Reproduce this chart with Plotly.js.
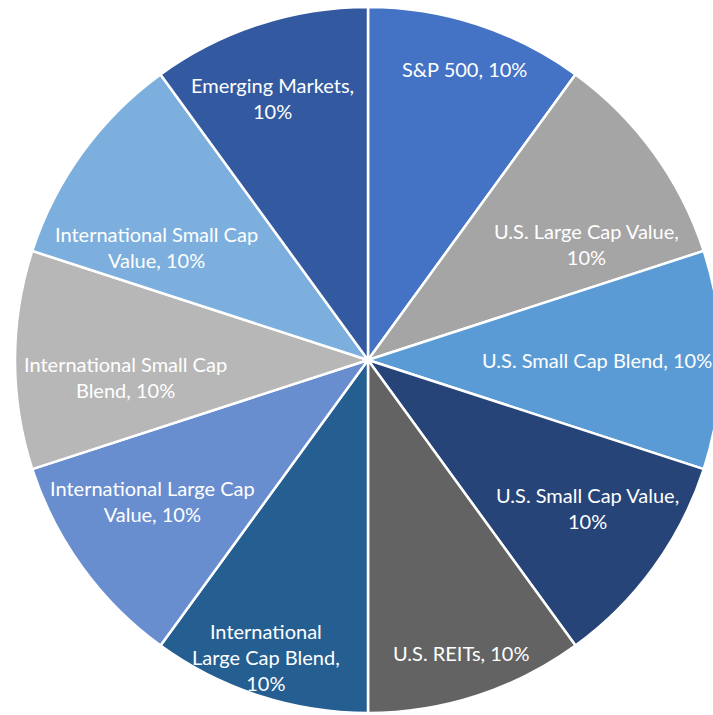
<!DOCTYPE html>
<html>
<head>
<meta charset="utf-8">
<script src="https://cdn.plot.ly/plotly-3.0.1.min.js"></script>
<style>
html,body{margin:0;padding:0;overflow:hidden;background:#fff;width:713px;height:715px;}
#chart{width:740px;height:720px;}
</style>
</head>
<body>
<div id="chart"></div>
<script>
// ---- data ----
const categories = ["S&P 500","U.S. Large Cap Value","U.S. Small Cap Blend","U.S. Small Cap Value","U.S. REITs","International Large Cap Blend","International Large Cap Value","International Small Cap Blend","International Small Cap Value","Emerging Markets"];
const values = [10,10,10,10,10,10,10,10,10,10];
const labelTexts = ["S&P 500, 10%","U.S. Large Cap Value,<br>10%","U.S. Small Cap Blend, 10%","U.S. Small Cap Value,<br>10%","U.S. REITs, 10%","International<br>Large Cap Blend,<br>10%","International Large Cap<br>Value, 10%","International Small Cap<br>Blend, 10%","International Small Cap<br>Value, 10%","Emerging Markets,<br>10%"];

// ---- style ----
const colors = ["#4472C4","#A5A5A5","#5B9BD5","#264478","#636363","#255E91","#698ED0","#B7B7B7","#7CAFDD","#335AA1"];
const labelRadius = [0.87,0.70,0.65,0.75,0.87,0.89,0.73,0.69,0.68,0.79];
const labelAngleShift = [0.4,8,0,-2,0.3,1,2.7,-4,-8,-2];

const W = 740, H = 720;
const cx = 368, cy = 360, R = 353;

const total = values.reduce((a, b) => a + b, 0);
let cum = 0;
const annotations = values.map((v, i) => {
  const mid = (cum + v / 2) / total * 360 + labelAngleShift[i];
  cum += v;
  const a = mid * Math.PI / 180;
  const r = labelRadius[i] * R;
  const px = cx + r * Math.sin(a);
  const py = cy - r * Math.cos(a);
  return {
    xref: "paper", yref: "paper",
    x: px / W, y: (H - py) / H,
    xanchor: "center", yanchor: "middle",
    text: labelTexts[i], showarrow: false, align: "center",
    font: {family: "Lato, 'Open Sans', sans-serif", size: 20, color: "#ffffff"}
  };
});

const trace = {
  type: "pie",
  labels: categories,
  values: values,
  textinfo: "none",
  sort: false,
  direction: "clockwise",
  rotation: 0,
  marker: {colors: colors, line: {color: "#ffffff", width: 2.5}},
  hoverinfo: "label+percent",
  domain: {x: [(cx - R) / W, (cx + R) / W], y: [(H - cy - R) / H, (H - cy + R) / H]}
};
const layout = {
  width: W, height: H,
  margin: {l: 0, r: 0, t: 0, b: 0},
  showlegend: false,
  paper_bgcolor: "#ffffff",
  annotations: annotations
};
Plotly.newPlot("chart", [trace], layout, {displayModeBar: false, staticPlot: true});
</script>
</body>
</html>
